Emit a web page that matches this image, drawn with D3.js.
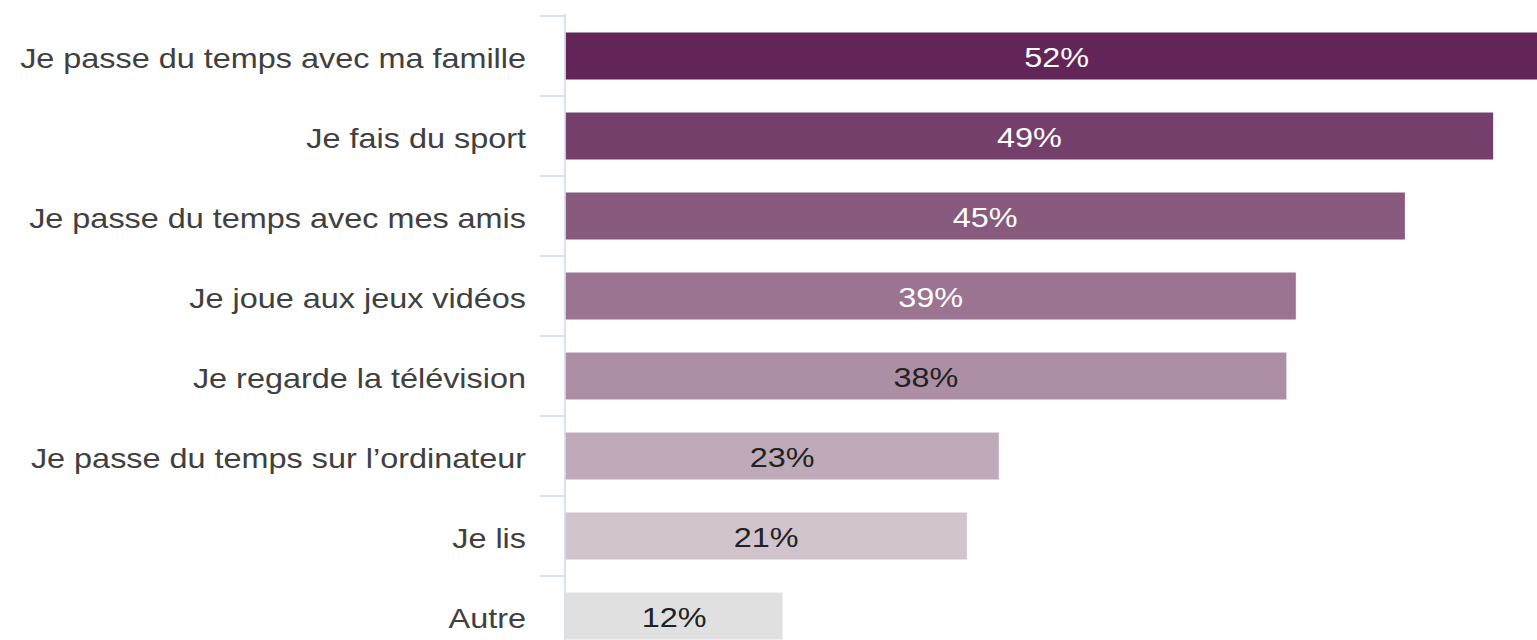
<!DOCTYPE html>
<html lang="fr">
  <meta charset="UTF-8" />
  <title>Activités</title>
  <style>
    body { margin: 0; background: #fff; overflow: hidden; }
    text { font-family: "Liberation Sans", Arial, sans-serif; }
  </style>
  <script src="https://d3js.org/d3.v7.min.js"></script>
  <body>
    <div id="chart"></div>
    <script>
      // categories and values
      var categories = [
        "Je passe du temps avec ma famille",
        "Je fais du sport",
        "Je passe du temps avec mes amis",
        "Je joue aux jeux vidéos",
        "Je regarde la télévision",
        "Je passe du temps sur l’ordinateur",
        "Je lis",
        "Autre"
      ];
      var values = [52.3, 49.4, 44.7, 38.9, 38.4, 23.1, 21.4, 11.6];
      var colors = ["#632458", "#753f6b", "#885a7d", "#9a7490", "#ad8fa5", "#bfaab9", "#d1c4cc", "#e0e0e0"];
      var labelColors = ["#fff", "#fff", "#fff", "#fff", "#222", "#222", "#222", "#222"];

      var W = 1537, H = 640;
      var marginLeft = 565, marginTop = 16;
      var fontSize = 27, stretch = 1.2; // the source text is a bit wider than normal

      var svg = d3.select("#chart").append("svg")
        .attr("width", W)
        .attr("height", H);

      // each category gets an 80px band, bar is 48px tall in the middle
      var y = d3.scaleBand()
        .domain(categories)
        .range([marginTop, marginTop + 80 * categories.length])
        .paddingInner(0.4)
        .paddingOuter(0.2);

      var x = d3.scaleLinear().domain([0, 60]).range([0, 1128]);

      var g = svg.append("g").attr("transform", "translate(" + marginLeft + ",0)");

      // bars
      g.selectAll("rect.bar")
        .data(values)
        .enter()
        .append("rect")
        .attr("class", "bar")
        .attr("x", 0)
        .attr("y", (d, i) => y(categories[i]))
        .attr("width", (d) => x(d))
        .attr("height", y.bandwidth())
        .attr("fill", (d, i) => colors[i])
        .attr("stroke", "#fff")
        .attr("stroke-width", 1);

      // value labels
      g.selectAll("text.val")
        .data(values)
        .enter()
        .append("text")
        .attr("class", "val")
        .attr("transform", (d, i) =>
          "translate(" + x(d) / 2 + "," + (y(categories[i]) + y.bandwidth() / 2) + ") scale(" + stretch + ",1)")
        .attr("dy", "0.42em")
        .attr("text-anchor", "middle")
        .attr("font-size", fontSize)
        .attr("fill", (d, i) => labelColors[i])
        .text((d) => Math.round(d) + "%");

      // category axis
      var gap = (y.step() - y.bandwidth()) / 2;
      var axis = svg.append("g");
      axis.append("line")
        .attr("x1", marginLeft).attr("x2", marginLeft)
        .attr("y1", marginTop - 2).attr("y2", H)
        .attr("stroke", "#ccd6eb").attr("stroke-width", 1.5);
      axis.selectAll("line.tick")
        .data(categories)
        .enter()
        .append("line")
        .attr("class", "tick")
        .attr("x1", marginLeft - 25).attr("x2", marginLeft)
        .attr("y1", (c) => y(c) - gap)
        .attr("y2", (c) => y(c) - gap)
        .attr("stroke", "#ccd6eb").attr("stroke-width", 1.5);
      axis.selectAll("text.cat")
        .data(categories)
        .enter()
        .append("text")
        .attr("class", "cat")
        .attr("transform", (c) =>
          "translate(" + (marginLeft - 39) + "," + (y(c) + y.bandwidth() / 2) + ") scale(" + stretch + ",1)")
        .attr("dy", "0.46em")
        .attr("text-anchor", "end")
        .attr("font-size", fontSize)
        .attr("fill", "#404040")
        .text((c) => c);
    </script>
  </body>
</html>
